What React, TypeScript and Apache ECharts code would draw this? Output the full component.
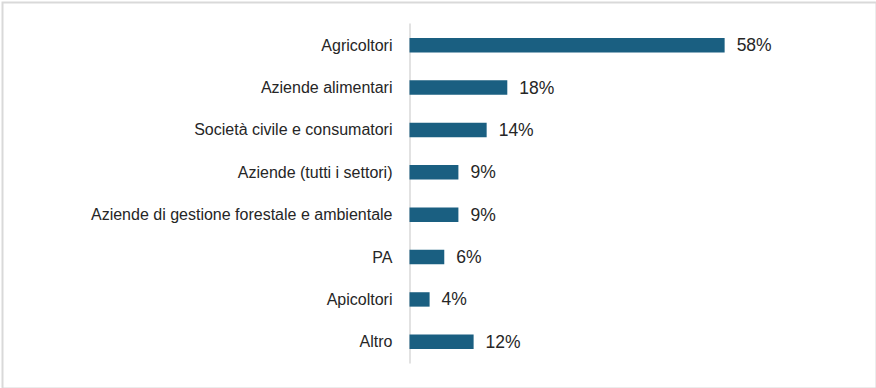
import React, { useEffect, useRef } from "react";
import * as echarts from "echarts";

const categories = [
  "Agricoltori",
  "Aziende alimentari",
  "Società civile e consumatori",
  "Aziende (tutti i settori)",
  "Aziende di gestione forestale e ambientale",
  "PA",
  "Apicoltori",
  "Altro",
];
const values = [58, 18, 14.2, 9, 9, 6.4, 3.7, 11.8];

export default function App() {
  const ref = useRef<HTMLDivElement>(null);
  useEffect(() => {
    document.body.style.margin = "0";
    const chart = echarts.init(ref.current!, null, { renderer: "svg" });
    chart.setOption({
      animation: false,
      backgroundColor: "#ffffff",
      graphic: [
        {
          type: "rect",
          left: 0,
          top: 0,
          shape: { x: 1, y: 1, width: 874, height: 386 },
          style: { fill: "none", stroke: "#d9d9d9", lineWidth: 2 },
          silent: true,
        },
      ],
      grid: { left: 409.5, top: 24, width: 326, height: 339, containLabel: false },
      xAxis: {
        type: "value",
        min: 0,
        max: 60,
        show: false,
      },
      yAxis: {
        type: "category",
        inverse: true,
        data: categories,
        axisLine: { show: true, lineStyle: { color: "#d9d9d9", width: 1.5 } },
        axisTick: { show: false },
        axisLabel: {
          color: "#262626",
          fontSize: 16,
          fontFamily: "Liberation Sans, Arial, sans-serif",
          margin: 17,
        },
      },
      series: [
        {
          type: "bar",
          data: values,
          barWidth: "34%",
          itemStyle: { color: "#1A5F81" },
          label: {
            show: true,
            position: "right",
            distance: 12,
            formatter: (p: any) => Math.round(p.value) + "%",
            color: "#262626",
            fontSize: 17.5,
            fontFamily: "Liberation Sans, Arial, sans-serif",
          },
        },
      ],
    });
    return () => chart.dispose();
  }, []);
  return <div ref={ref} style={{ width: 876, height: 388 }} />;
}
